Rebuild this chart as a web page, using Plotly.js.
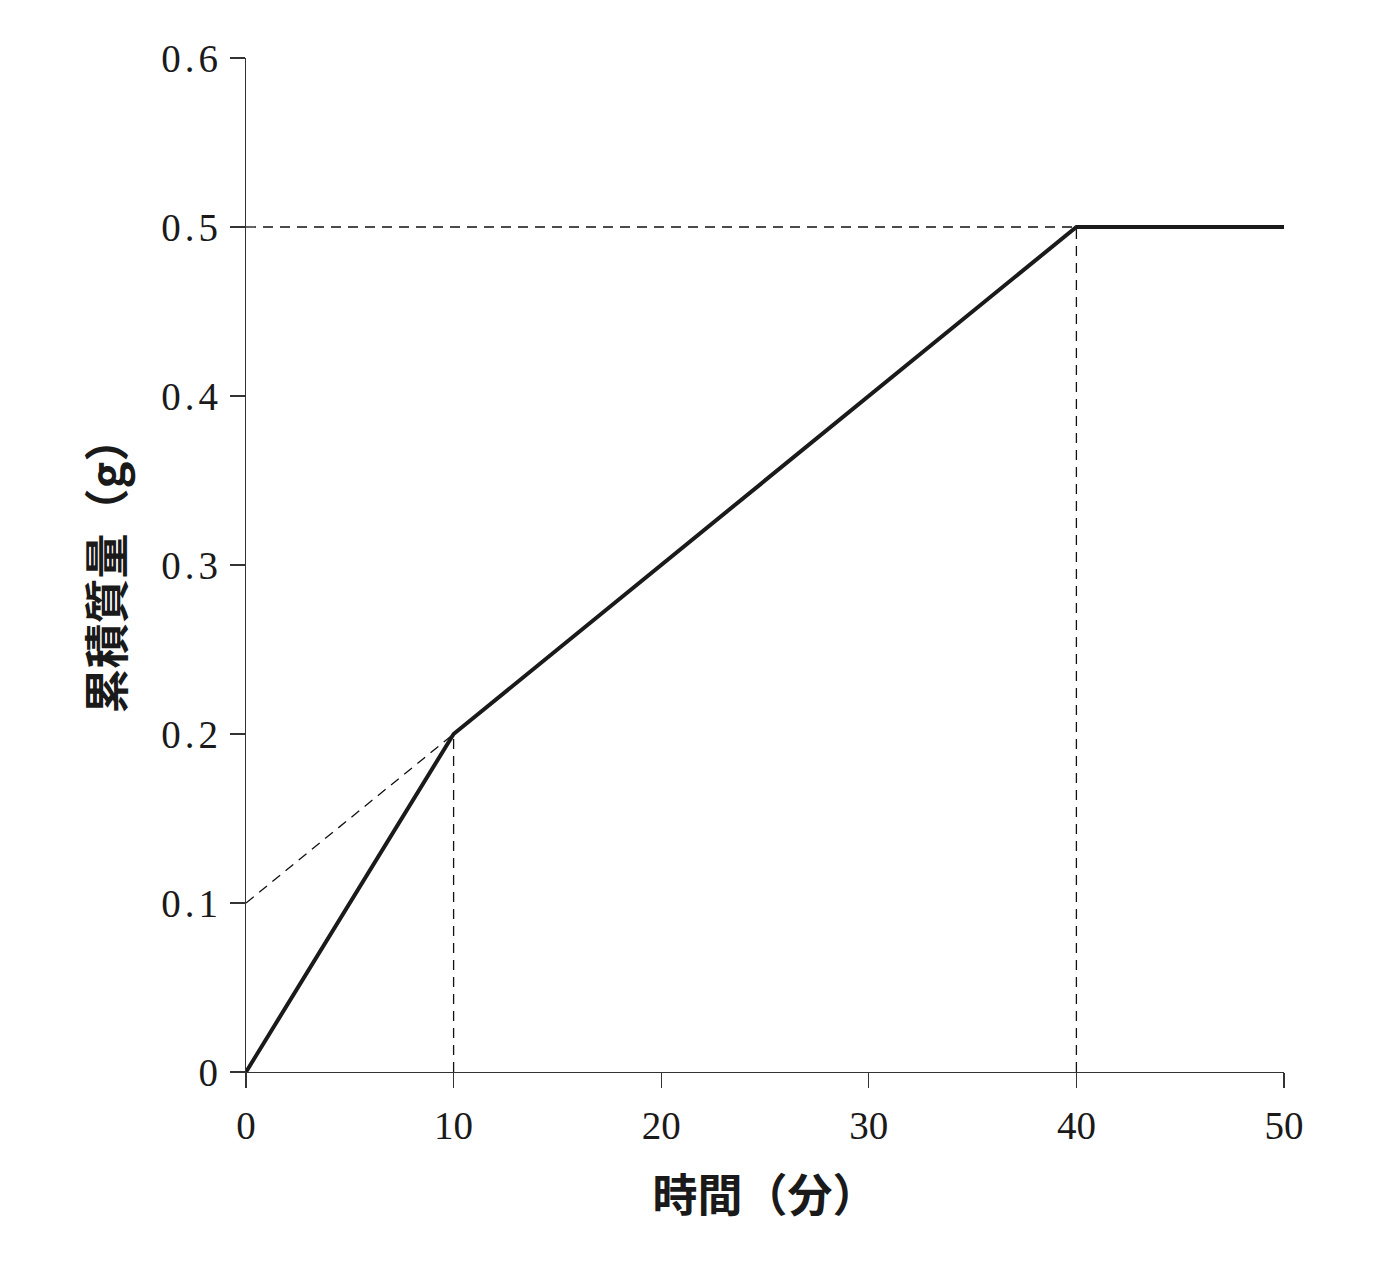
<!DOCTYPE html>
<html>
<head>
<meta charset="utf-8">
<script src="https://cdn.plot.ly/plotly-3.0.1.min.js"></script>
<style>
html,body{margin:0;padding:0;background:#fff;}
#chart{width:1394px;height:1276px;}
#chart .ytick text{letter-spacing:4px;}
</style>
</head>
<body>
<div id="chart"></div>
<script>
// Data
const timeMin = [0, 10, 40, 50];
const massG = [0, 0.2, 0.5, 0.5];
const guideTangentX = [0, 10];
const guideTangentY = [0.1, 0.2];
const guideV10X = [10, 10];
const guideV10Y = [0, 0.2];
const guideH05X = [0, 40];
const guideH05Y = [0.5, 0.5];
const guideV40X = [40, 40];
const guideV40Y = [0, 0.5];
const xTicks = [0, 10, 20, 30, 40, 50];
const yTicks = [0, 0.1, 0.2, 0.3, 0.4, 0.5, 0.6];
const yTickLabels = ['0', '0.1', '0.2', '0.3', '0.4', '0.5', '0.6'];
const xTitle = '時間（分）';
const yTitle = '累積質量（g）';

const dashStyle = {color: '#111', width: 1.3, dash: '10px,7px'};
const guides = [
  [guideTangentX, guideTangentY],
  [guideV10X, guideV10Y],
  [guideH05X, guideH05Y],
  [guideV40X, guideV40Y]
].map(([x, y]) => ({
  x: x, y: y, mode: 'lines', type: 'scatter', line: dashStyle,
  hoverinfo: 'skip', showlegend: false, cliponaxis: false
}));

const main = {
  x: timeMin, y: massG, mode: 'lines', type: 'scatter',
  line: {color: '#1a1a1a', width: 4}, showlegend: false, cliponaxis: false
};

const tickFont = {family: '"Liberation Serif", "DejaVu Serif", serif', size: 39, color: '#1a1a1a'};
const titleFont = {family: '"Noto Sans CJK JP", "Noto Sans", sans-serif', size: 45, color: '#1a1a1a', weight: 'bold'};

const layout = {
  width: 1394, height: 1276,
  paper_bgcolor: '#fff', plot_bgcolor: '#fff',
  margin: {l: 246, r: 110, t: 58, b: 204},
  showlegend: false,
  xaxis: {
    range: [0, 50], tickvals: xTicks, ticks: 'outside', ticklen: 15, tickwidth: 1.3, tickcolor: '#333',
    showline: true, linecolor: '#333', linewidth: 1.3, showgrid: false, zeroline: false,
    tickfont: tickFont, ticklabelstandoff: 4,
    title: {text: xTitle, font: titleFont, standoff: 34}
  },
  yaxis: {
    range: [0, 0.6], tickvals: yTicks, ticktext: yTickLabels, ticks: 'outside', ticklen: 15, tickwidth: 1.3, tickcolor: '#333',
    showline: true, linecolor: '#333', linewidth: 1.3, showgrid: false, zeroline: false,
    tickfont: tickFont, ticklabelstandoff: 0,
    title: {text: yTitle, font: titleFont, standoff: 34}
  }
};

Plotly.newPlot('chart', guides.concat([main]), layout, {displayModeBar: false, staticPlot: true});
</script>
</body>
</html>
